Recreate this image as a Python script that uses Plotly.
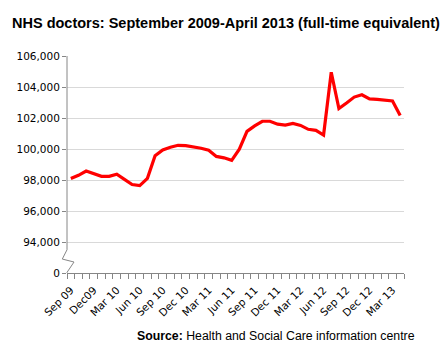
import plotly.graph_objects as go

months = ["Sep 09","Oct 09","Nov 09","Dec09","Jan 10","Feb 10","Mar 10","Apr 10","May 10","Jun 10",
          "Jul 10","Aug 10","Sep 10","Oct 10","Nov 10","Dec 10","Jan 11","Feb 11","Mar 11","Apr 11",
          "May 11","Jun 11","Jul 11","Aug 11","Sep 11","Oct 11","Nov 11","Dec 11","Jan 12","Feb 12",
          "Mar 12","Apr 12","May 12","Jun 12","Jul 12","Aug 12","Sep 12","Oct 12","Nov 12","Dec 12",
          "Jan 13","Feb 13","Mar 13","Apr 13"]
doctors = [98100, 98300, 98580, 98410, 98240, 98240, 98370, 98040, 97710, 97640,
           98110, 99560, 99940, 100110, 100240, 100220, 100150, 100050, 99920, 99520,
           99430, 99270, 99990, 101140, 101490, 101790, 101790, 101600, 101540, 101650,
           101520, 101270, 101200, 100900, 104950, 102610, 102970, 103350, 103500, 103230,
           103200, 103160, 103100, 102160]
label_every = 3
ytick_vals = [92000, 94000, 96000, 98000, 100000, 102000, 104000, 106000]
ytick_text = ["0", "94,000", "96,000", "98,000", "100,000", "102,000", "104,000", "106,000"]

x = list(range(len(months)))
tickvals = x[::label_every]
ticktext = months[::label_every]

axis_col = "#868686"
grid_col = "#D9D9D9"
font_fam = "DejaVu Sans"

fig = go.Figure()
fig.add_trace(go.Scatter(x=x, y=doctors, mode="lines",
                         line=dict(color="#FF0000", width=3.2), hoverinfo="skip"))

fig.update_layout(
    width=447, height=355,
    margin=dict(l=67, r=43, t=56, b=82),
    paper_bgcolor="white", plot_bgcolor="white",
    showlegend=False,
    title=dict(text="<b>NHS doctors: September 2009-April 2013 (full-time equivalent)</b>",
               x=12/447, xanchor="left", y=1-23/355, yanchor="middle",
               xref="container", yref="container",
               font=dict(family="Liberation Sans", size=14.5, color="#000000")),
    xaxis=dict(range=[-0.5, len(months)-0.5], tickmode="array", tickvals=tickvals, ticktext=ticktext,
               tickangle=-45, ticks="", showgrid=False, zeroline=False,
               showline=True, linecolor=axis_col, linewidth=1,
               ticklabelstandoff=6,
               tickfont=dict(family=font_fam, size=10.5, color="#000000"),
               minor=dict(tickmode="array", tickvals=[i-0.5 for i in range(len(months)+1)],
                          ticks="outside", ticklen=5, tickcolor=axis_col, showgrid=False)),
    yaxis=dict(range=[92000, 106000], tickmode="array", tickvals=ytick_vals, ticktext=ytick_text,
               ticks="outside", ticklen=4, tickcolor=axis_col,
               showgrid=True, gridcolor=grid_col, gridwidth=1, zeroline=False,
               showline=False,
               tickfont=dict(family=font_fam, size=10.5, color="#000000")),
    annotations=[dict(text="<b>Source:</b> Health and Social Care information centre",
                      xref="paper", yref="paper", x=(417-67)/337, y=(273.3-336)/217.6,
                      xanchor="right", yanchor="middle", showarrow=False,
                      font=dict(family="Liberation Sans", size=12.3, color="#000000"))],
    shapes=[
        dict(type="line", xref="paper", yref="y", x0=0, x1=0, y0=93500, y1=106000,
             line=dict(color=axis_col, width=1)),
        dict(type="path", xref="paper", yref="y",
             path="M 0,93500 L -0.014,92900 L 0.0208,92708 L 0,92039 L 0,92000",
             line=dict(color=axis_col, width=1)),
    ],
)

fig.write_html("out.html", config={"displayModeBar": False},
               post_script="document.body.style.margin='0';")
